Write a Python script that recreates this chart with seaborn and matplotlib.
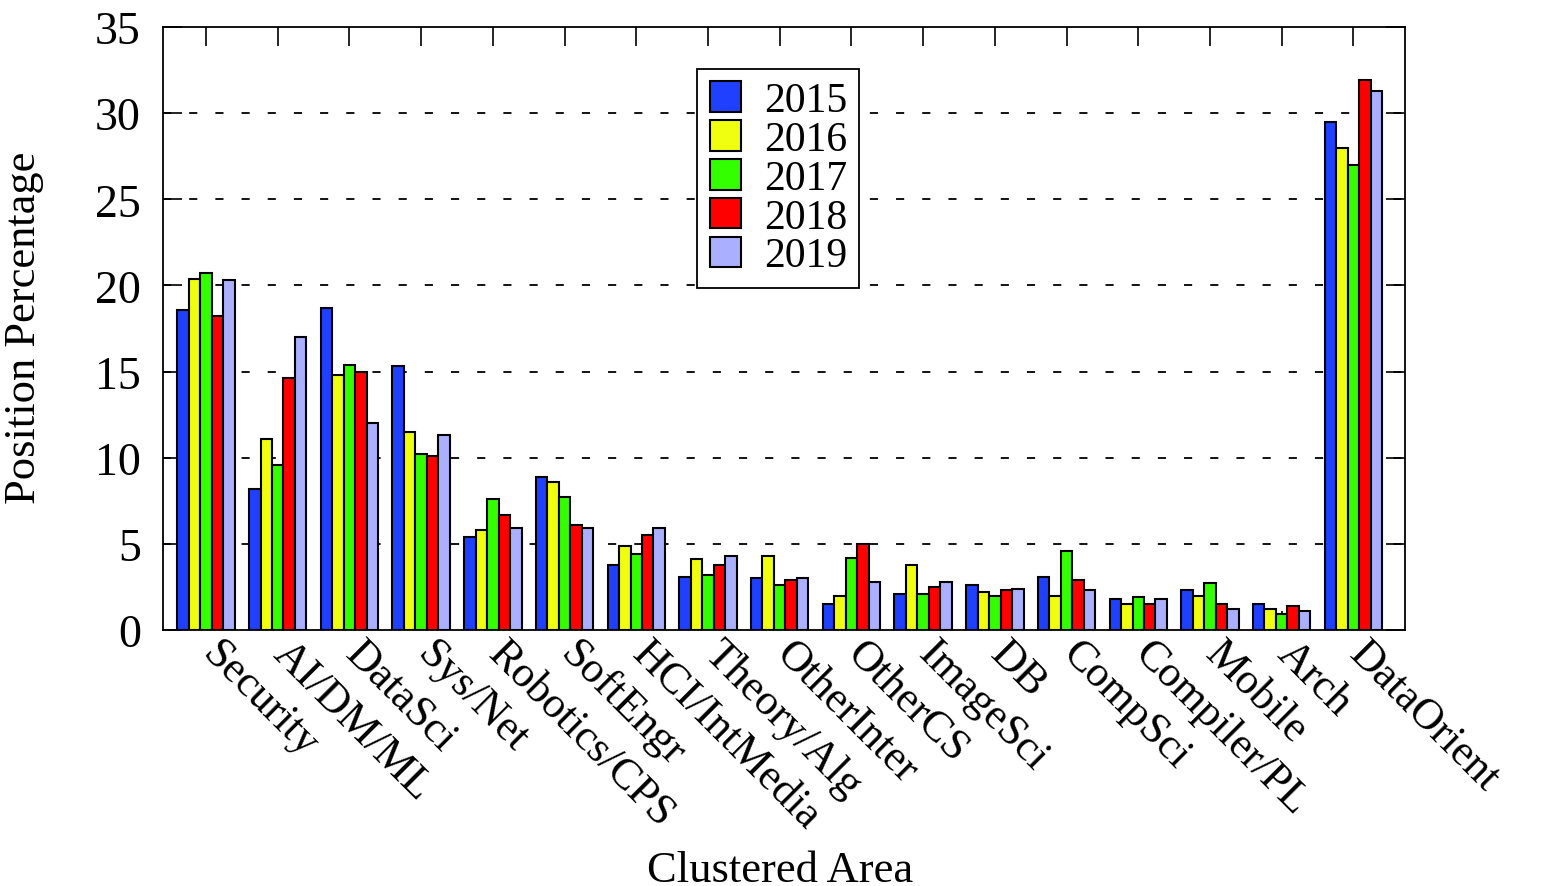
import matplotlib
matplotlib.use("Agg")
import matplotlib.pyplot as plt
import matplotlib.transforms as mtransforms
import seaborn as sns
import pandas as pd
from matplotlib.ticker import FixedLocator

categories = ["Security", "AI/DM/ML", "DataSci", "Sys/Net", "Robotics/CPS", "SoftEngr",
              "HCI/IntMedia", "Theory/Alg", "OtherInter", "OtherCS", "ImageSci", "DB",
              "CompSci", "Compiler/PL", "Mobile", "Arch", "DataOrient"]
years = ["2015", "2016", "2017", "2018", "2019"]
v2015 = [18.6, 8.2, 18.7, 15.3, 5.4, 8.9, 3.8, 3.1, 3.0, 1.5, 2.1, 2.6, 3.1, 1.8, 2.3, 1.5, 29.5]
v2016 = [20.4, 11.1, 14.8, 11.5, 5.8, 8.6, 4.9, 4.1, 4.3, 2.0, 3.8, 2.2, 2.0, 1.5, 2.0, 1.2, 28.0]
v2017 = [20.7, 9.6, 15.4, 10.2, 7.6, 7.7, 4.4, 3.2, 2.6, 4.2, 2.1, 2.0, 4.6, 1.9, 2.7, 0.9, 27.0]
v2018 = [18.2, 14.6, 15.0, 10.1, 6.7, 6.1, 5.5, 3.8, 2.9, 5.0, 2.5, 2.3, 2.9, 1.5, 1.5, 1.4, 31.9]
v2019 = [20.3, 17.0, 12.0, 11.3, 5.9, 5.9, 5.9, 4.3, 3.0, 2.8, 2.8, 2.4, 2.3, 1.8, 1.2, 1.1, 31.3]
colors = ["#2040FF", "#F0FF10", "#33FF00", "#FF0000", "#AAB0FF"]
yticks = [0, 5, 10, 15, 20, 25, 30, 35]

series = [v2015, v2016, v2017, v2018, v2019]
rows = []
for y, vals in zip(years, series):
    for c, v in zip(categories, vals):
        rows.append({"Area": c, "Year": y, "Value": v})
df = pd.DataFrame(rows)

sns.set_theme(style="white")
plt.rcParams["font.family"] = ["Liberation Serif", "DejaVu Serif"]
plt.rcParams["text.color"] = "black"
plt.rcParams["axes.labelcolor"] = "black"
plt.rcParams["xtick.color"] = "black"
plt.rcParams["ytick.color"] = "black"

W, H = 1554, 887
fig = plt.figure(figsize=(W / 100, H / 100), dpi=100)
ax = fig.add_axes([163 / W, 1 - 631 / H, (1405 - 163) / W, (631 - 28) / H])

sns.barplot(data=df, x="Area", y="Value", hue="Year", order=categories, hue_order=years,
            palette=colors, width=0.8, edgecolor="black", linewidth=1.5, saturation=1,
            ax=ax, zorder=3)

ax.set_ylim(0, 35)
ax.set_xlim(-0.6, 16.72)
ax.yaxis.set_major_locator(FixedLocator(yticks))
ax.set_yticklabels([str(t) for t in yticks], fontsize=33)
for t in yticks[1:-1]:
    ax.axhline(t, color="black", linestyle=(0, (4.5, 10)), linewidth=1.3, zorder=1)

ax.set_xticks(range(len(categories)))
ax.set_xticklabels(categories, rotation=-45, ha="left", va="top", rotation_mode="anchor", fontsize=31.5)
ax.tick_params(axis="both", direction="in", length=14, width=1.2, colors="black",
               top=True, right=True, bottom=True, left=True)
ax.tick_params(axis="x", pad=2)
ax.tick_params(axis="y", pad=16)
offset = mtransforms.ScaledTranslation(16 / 100, 0, fig.dpi_scale_trans)
for lbl in ax.get_xticklabels():
    lbl.set_transform(lbl.get_transform() + offset)
for s in ax.spines.values():
    s.set_visible(True)
    s.set_color("black")
    s.set_linewidth(1.3)

ax.set_xlabel("Clustered Area", fontsize=32)
ax.set_ylabel("Position Percentage", fontsize=32)
ax.xaxis.set_label_coords((780 - 163) / 1242, (631 - 851) / 603)
ax.yaxis.set_label_coords((44 - 163) / 1242, 0.502)

leg = ax.legend(loc="upper left", bbox_to_anchor=((697 - 163) / (1405 - 163), 1 - (70 - 28) / (631 - 28)),
                fontsize=30, frameon=True, fancybox=False, edgecolor="black",
                handlelength=0.75, handleheight=0.75, handletextpad=0.55, labelspacing=0.0,
                borderpad=0.3, borderaxespad=0)
leg.get_frame().set_linewidth(1.3)
leg.get_frame().set_alpha(1)
leg.set_zorder(5)

fig.savefig("out.png", dpi=100)
